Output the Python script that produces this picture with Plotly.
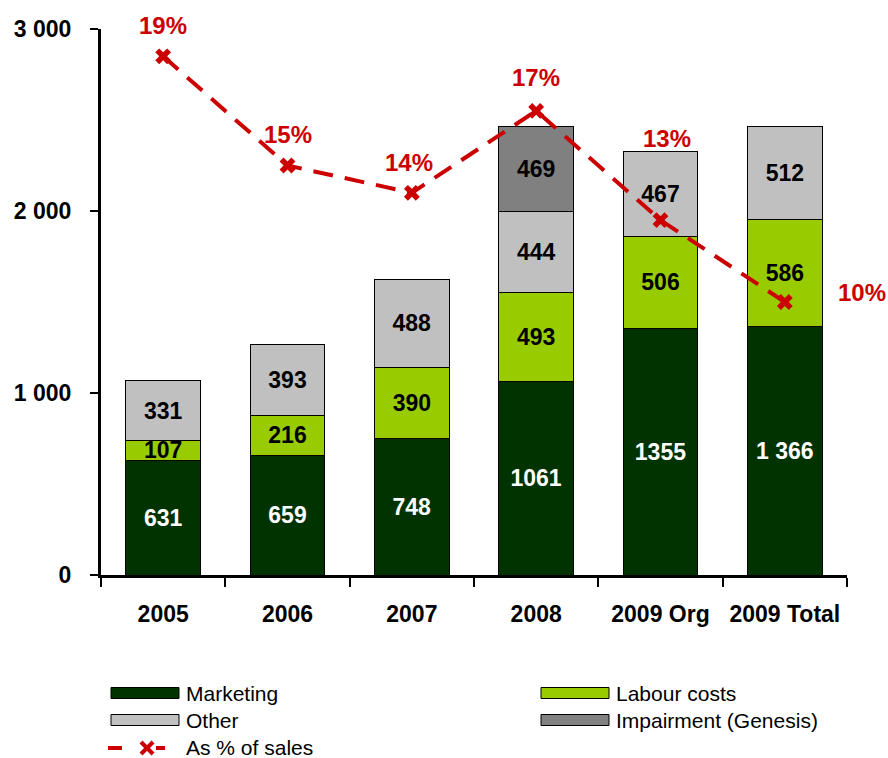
import plotly.graph_objects as go

categories = ["2005", "2006", "2007", "2008", "2009 Org", "2009 Total"]
marketing = [631, 659, 748, 1061, 1355, 1366]
marketing_labels = ["631", "659", "748", "1061", "1355", "1 366"]
labour = [107, 216, 390, 493, 506, 586]
other = [331, 393, 488, 444, 467, 512]
impairment = [None, None, None, 469, None, None]
pct_sales = [0.19, 0.15, 0.14, 0.17, 0.13, 0.10]
pct_labels = ["19%", "15%", "14%", "17%", "13%", "10%"]
y_ticks = [0, 1000, 2000, 3000]
y_tick_labels = ["0", "1 000", "2 000", "3 000"]

# label offsets in pixels (layout only)
pct_label_shift = [(0, 31), (0, 31), (-3, 30), (0, 33), (6, 82), (77, 10)]

C_MKT = "#003300"
C_LAB = "#99CC00"
C_OTH = "#C0C0C0"
C_IMP = "#808080"
C_RED = "#CC0000"
FONT = "Liberation Sans"

fig = go.Figure()

def add_bar(name, vals, color, texts, tcolor):
    fig.add_trace(go.Bar(
        name=name, x=categories, y=vals, marker=dict(color=color, line=dict(color="black", width=1)),
        text=texts, textposition="inside", insidetextanchor="middle", constraintext="none",
        textfont=dict(family=FONT, size=23, color=tcolor, weight="bold"),
        textangle=0, cliponaxis=False, showlegend=False, hoverinfo="skip"))

add_bar("Marketing", marketing, C_MKT, marketing_labels, "white")
add_bar("Labour costs", labour, C_LAB, [str(v) for v in labour], "black")
add_bar("Other", other, C_OTH, [str(v) for v in other], "black")
add_bar("Impairment (Genesis)", impairment, C_IMP, ["" if v is None else str(v) for v in impairment], "black")

fig.add_trace(go.Scatter(
    name="As % of sales", x=categories, y=pct_sales, yaxis="y2", mode="lines+markers",
    line=dict(color=C_RED, width=4, dash="20px,12px"),
    marker=dict(symbol="x", size=14, color=C_RED),
    showlegend=False, hoverinfo="skip", cliponaxis=False))

for i, (v, t) in enumerate(zip(pct_sales, pct_labels)):
    dx, dy = pct_label_shift[i]
    fig.add_annotation(x=i, y=v, xref="x", yref="y2", text=t, showarrow=False,
                       xshift=dx, yshift=dy,
                       font=dict(family=FONT, size=24, color=C_RED, weight="bold"))

W, H = 888, 758
L, R, T, B = 101, 847, 29, 575
def px(x):
    return (x - L) / (R - L)
def py(y):
    return (B - y) / (B - T)

legend_items = [
    ("Marketing", C_MKT, 111, 693),
    ("Labour costs", C_LAB, 541, 693),
    ("Other", C_OTH, 111, 720),
    ("Impairment (Genesis)", C_IMP, 541, 720),
]
for name, color, x0, yc in legend_items:
    fig.add_shape(type="rect", xref="paper", yref="paper",
                  x0=px(x0), x1=px(x0 + 68), y0=py(yc + 5.5), y1=py(yc - 5.5),
                  fillcolor=color, line=dict(color="black", width=1))
    fig.add_annotation(xref="paper", yref="paper", x=px(x0 + 73), y=py(yc), text=name,
                       showarrow=False, xanchor="left", yanchor="middle",
                       font=dict(family=FONT, size=21, color="black"))
yl = 748
fig.add_shape(type="line", xref="paper", yref="paper", x0=px(108), x1=px(122), y0=py(yl), y1=py(yl),
              line=dict(color=C_RED, width=4))
fig.add_shape(type="line", xref="paper", yref="paper", x0=px(156), x1=px(165), y0=py(yl), y1=py(yl),
              line=dict(color=C_RED, width=4))
fig.add_shape(type="line", xref="paper", yref="paper", x0=px(141), x1=px(153), y0=py(yl - 6), y1=py(yl + 6),
              line=dict(color=C_RED, width=4))
fig.add_shape(type="line", xref="paper", yref="paper", x0=px(141), x1=px(153), y0=py(yl + 6), y1=py(yl - 6),
              line=dict(color=C_RED, width=4))
fig.add_annotation(xref="paper", yref="paper", x=px(184), y=py(yl - 1), text="As % of sales",
                   showarrow=False, xanchor="left", yanchor="middle",
                   font=dict(family=FONT, size=21, color="black"))

fig.update_layout(
    width=W, height=H, barmode="stack", bargap=0.4,
    margin=dict(l=L, r=W - R, t=T, b=H - B, pad=0),
    plot_bgcolor="white", paper_bgcolor="white",
    font=dict(family=FONT, color="black"),
    xaxis=dict(type="category", range=[-0.5, len(categories) - 0.5], showline=True,
               linecolor="black", linewidth=3,
               ticks="outside", tickson="boundaries", ticklen=9, tickwidth=2, tickcolor="black",
               ticklabelstandoff=16, tickangle=0,
               tickfont=dict(family=FONT, size=23, color="black", weight="bold"),
               showgrid=False, zeroline=False),
    yaxis=dict(range=[0, 3000], tickvals=y_ticks, ticktext=y_tick_labels,
               showline=True, linecolor="black", linewidth=3,
               ticks="outside", ticklen=8, tickwidth=2, tickcolor="black",
               ticklabelstandoff=14,
               tickfont=dict(family=FONT, size=23, color="black", weight="bold"),
               showgrid=False, zeroline=False),
    yaxis2=dict(range=[0, 0.2], overlaying="y", visible=False),
    showlegend=False,
)

fig.write_html("out.html", config={"displayModeBar": False},
               post_script="document.body.style.margin='0';document.body.style.overflow='hidden';")
